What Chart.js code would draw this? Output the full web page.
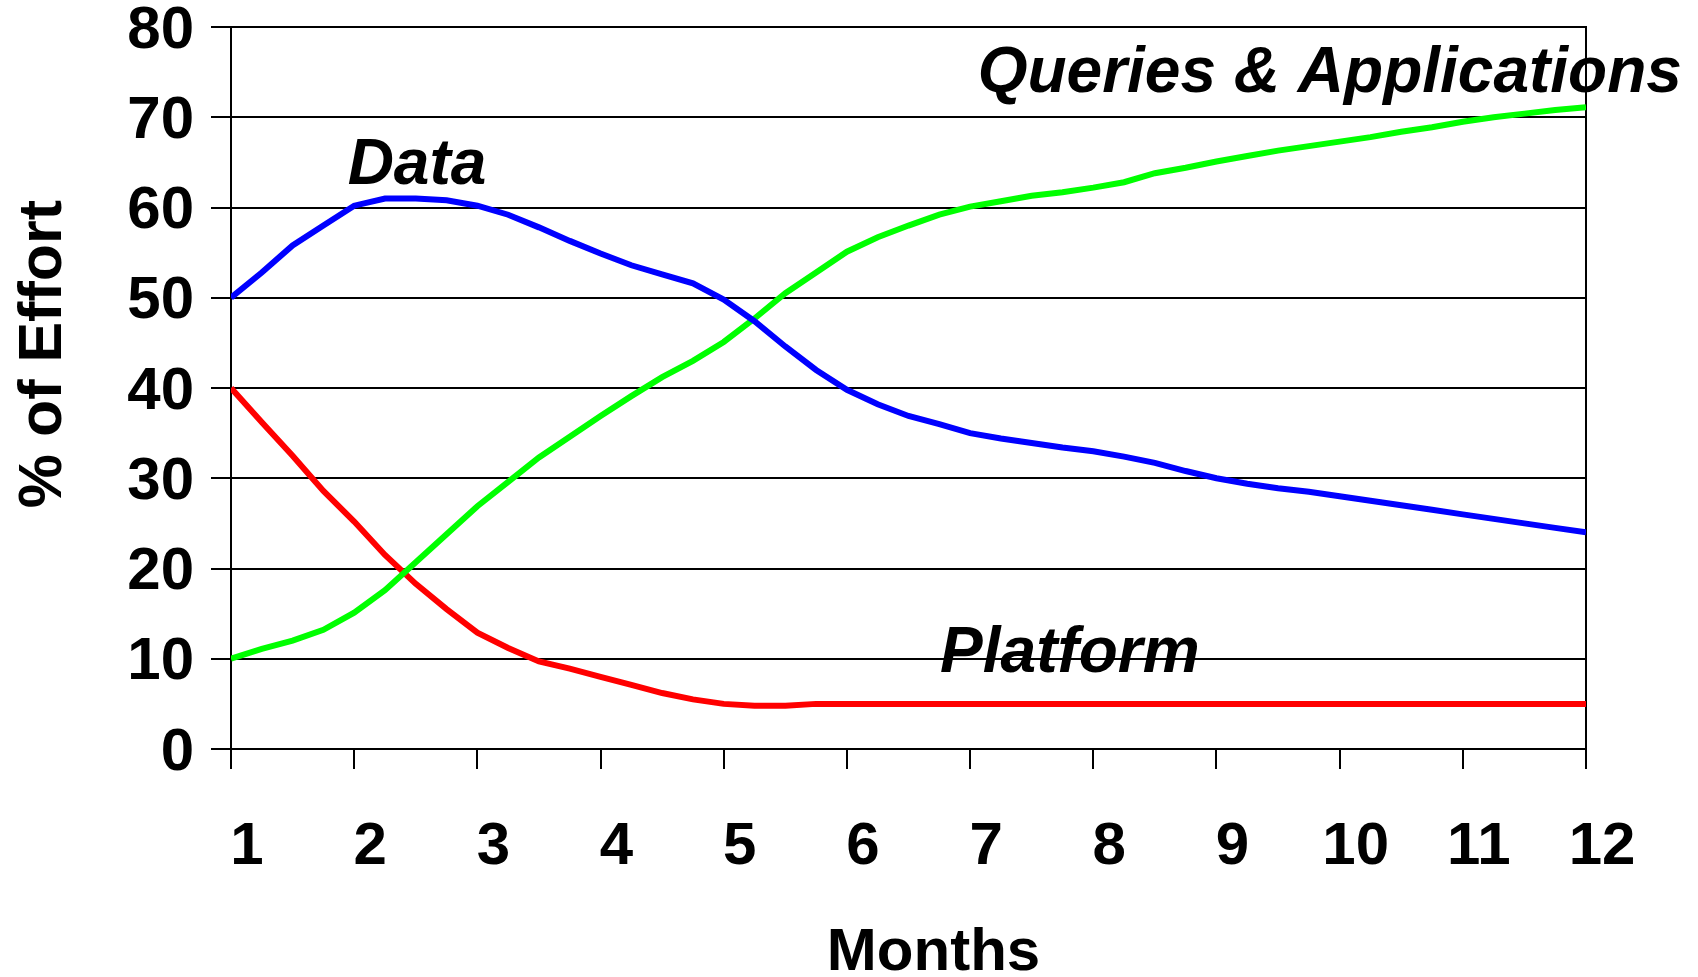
<!DOCTYPE html>
<html>
<head>
<meta charset="utf-8">
<script src="https://cdn.jsdelivr.net/npm/chart.js@4"></script>
<style>
  html, body { margin: 0; padding: 0; background: #ffffff; }
  #wrap { width: 1698px; height: 977px; position: relative; }
</style>
</head>
<body>
<div id="wrap"><canvas id="c" width="1698" height="977"></canvas></div>
<script>
// Sample positions (months, quarter-month steps)
const months = [1, 1.25, 1.5, 1.75, 2, 2.25, 2.5, 2.75, 3, 3.25, 3.5, 3.75,
  4, 4.25, 4.5, 4.75, 5, 5.25, 5.5, 5.75, 6, 6.25, 6.5, 6.75,
  7, 7.25, 7.5, 7.75, 8, 8.25, 8.5, 8.75, 9, 9.25, 9.5, 9.75,
  10, 10.25, 10.5, 10.75, 11, 11.25, 11.5, 11.75, 12];

// % of effort – Data (blue)
const dataEffort = [50.0, 52.8, 55.8, 58.0, 60.2, 61.0, 61.0, 60.8, 60.2, 59.2, 57.8, 56.3,
  54.9, 53.6, 52.6, 51.6, 49.8, 47.4, 44.6, 42.0, 39.8, 38.2, 36.9, 36.0,
  35.0, 34.4, 33.9, 33.4, 33.0, 32.4, 31.7, 30.8, 30.0, 29.4, 28.9, 28.5,
  28.0, 27.5, 27.0, 26.5, 26.0, 25.5, 25.0, 24.5, 24.0];

// % of effort – Queries & Applications (green)
const queriesEffort = [10.0, 11.1, 12.0, 13.2, 15.1, 17.6, 20.7, 23.8, 26.9, 29.6, 32.3, 34.6,
  36.9, 39.1, 41.2, 43.0, 45.1, 47.7, 50.5, 52.8, 55.1, 56.7, 58.0, 59.2,
  60.1, 60.7, 61.3, 61.7, 62.2, 62.8, 63.8, 64.4, 65.1, 65.7, 66.3, 66.8,
  67.3, 67.8, 68.4, 68.9, 69.5, 70.0, 70.4, 70.8, 71.1];

// % of effort – Platform (red)
const platformEffort = [40.0, 36.2, 32.5, 28.6, 25.2, 21.5, 18.3, 15.5, 12.9, 11.2, 9.7, 8.9,
  8.0, 7.1, 6.2, 5.5, 5.0, 4.8, 4.8, 5.0, 5.0, 5.0, 5.0, 5.0,
  5.0, 5.0, 5.0, 5.0, 5.0, 5.0, 5.0, 5.0, 5.0, 5.0, 5.0, 5.0,
  5.0, 5.0, 5.0, 5.0, 5.0, 5.0, 5.0, 5.0, 5.0];

// Axis tick labels
const monthTicks = ['1', '2', '3', '4', '5', '6', '7', '8', '9', '10', '11', '12'];
const effortTicks = [0, 10, 20, 30, 40, 50, 60, 70, 80];

// Series names
const seriesNames = ['Data', 'Queries & Applications', 'Platform'];

// In-chart labels (placed in data units)
const labelTexts = ['Data', 'Queries & Applications', 'Platform'];
const labelMonths = [2.51, 9.92, 7.81];
const labelValues = [64.6, 74.8, 10.5];

const FONT = '"Liberation Sans", Arial, Helvetica, sans-serif';

function toPoints(xs, ys) { return xs.map((x, i) => ({ x: x, y: ys[i] })); }

const labelPlugin = {
  id: 'seriesLabels',
  afterDatasetsDraw(chart) {
    const ctx = chart.ctx;
    const xs = chart.scales.x, ys = chart.scales.y;
    ctx.save();
    ctx.font = 'italic bold 64px ' + FONT;
    ctx.fillStyle = '#000000';
    ctx.textAlign = 'center';
    ctx.textBaseline = 'middle';
    labelTexts.forEach((t, i) => {
      ctx.fillText(t, xs.getPixelForValue(labelMonths[i]), ys.getPixelForValue(labelValues[i]));
    });
    ctx.restore();
  }
};

new Chart(document.getElementById('c'), {
  type: 'line',
  data: {
    datasets: [
      { label: seriesNames[0], data: toPoints(months, dataEffort), borderColor: '#0000FF', borderWidth: 6, pointRadius: 0, tension: 0, fill: false },
      { label: seriesNames[1], data: toPoints(months, queriesEffort), borderColor: '#00FF00', borderWidth: 6, pointRadius: 0, tension: 0, fill: false },
      { label: seriesNames[2], data: toPoints(months, platformEffort), borderColor: '#FF0000', borderWidth: 6, pointRadius: 0, tension: 0, fill: false }
    ]
  },
  options: {
    responsive: false,
    animation: false,
    devicePixelRatio: 1,
    layout: { padding: { left: 0, top: 27, right: 112, bottom: 0 } },
    plugins: { legend: { display: false }, tooltip: { enabled: false } },
    scales: {
      x: {
        type: 'linear',
        min: 1, max: 12,
        afterFit: (s) => { s.height = 228; s.paddingLeft = 0; s.paddingRight = 0; },
        border: { display: true, color: '#000000', width: 2 },
        grid: { display: true, drawOnChartArea: false, drawTicks: true, tickLength: 20, color: '#000000', lineWidth: 2 },
        ticks: {
          stepSize: 1,
          autoSkip: false,
          maxRotation: 0,
          labelOffset: 16,
          padding: 48,
          color: '#000000',
          font: { family: FONT, size: 60, weight: 'bold', lineHeight: 1 },
          callback: (v) => monthTicks[Math.round(v) - 1]
        },
        title: {
          display: true,
          text: '   Months',
          color: '#000000',
          font: { family: FONT, size: 60, weight: 'bold', lineHeight: 0.8 },
          padding: { top: 0, bottom: 0 }
        }
      },
      y: {
        type: 'linear',
        min: 0, max: 80,
        afterFit: (s) => { s.width = 231; s.paddingTop = 0; s.paddingBottom = 0; },
        afterBuildTicks: (s) => { s.ticks = effortTicks.map(v => ({ value: v })); },
        border: { display: true, color: '#000000', width: 2 },
        grid: { display: true, drawOnChartArea: true, drawTicks: true, tickLength: 20, color: '#000000', lineWidth: 2 },
        ticks: {
          padding: 17,
          labelOffset: 4,
          color: '#000000',
          font: { family: FONT, size: 60, weight: 'bold', lineHeight: 1 }
        },
        title: {
          display: true,
          text: '    % of Effort',
          color: '#000000',
          font: { family: FONT, size: 61, weight: 'bold', lineHeight: 1 },
          padding: { top: 14, bottom: 0 }
        }
      },
      y2: {
        type: 'linear',
        position: 'right',
        min: 0, max: 80,
        afterFit: (s) => { s.width = 0; s.paddingTop = 0; s.paddingBottom = 0; },
        border: { display: true, color: '#000000', width: 2 },
        grid: { display: true, drawOnChartArea: false, drawTicks: false },
        ticks: { display: false }
      }
    }
  },
  plugins: [labelPlugin]
});
</script>
</body>
</html>
